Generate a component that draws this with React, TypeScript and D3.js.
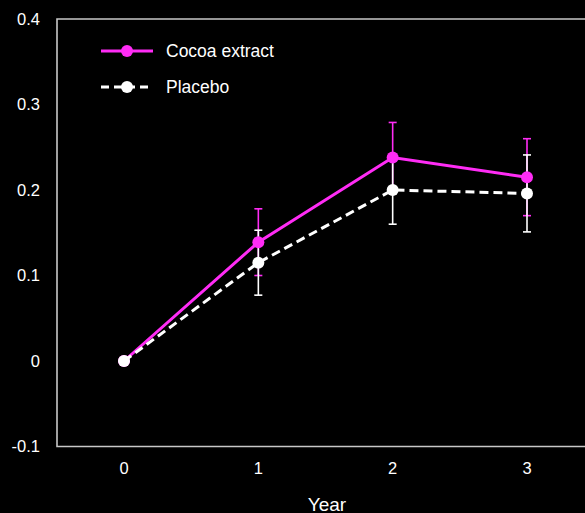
import { useEffect, useRef } from "react";
import * as d3 from "d3";

// years on the x axis
const years = [0, 1, 2, 3];
// mean change per year
const cocoaValues = [0, 0.139, 0.238, 0.215];
const cocoaErrors = [0, 0.039, 0.041, 0.045];
const placeboValues = [0, 0.115, 0.2, 0.196];
const placeboErrors = [0, 0.038, 0.04, 0.045];
const yTicks = [-0.1, 0, 0.1, 0.2, 0.3, 0.4];
const yTickLabels = ["-0.1", "0", "0.1", "0.2", "0.3", "0.4"];
const seriesNames = ["Cocoa extract", "Placebo"];

const PINK = "#ff2cf5";
const WHITE = "#ffffff";
const AXIS = "#c8c8c8";

const App: React.FC = () => {
  const svgRef = useRef<SVGSVGElement | null>(null);

  useEffect(() => {
    if (!svgRef.current) return;
    const width = 585;
    const height = 513;
    const svg = d3.select(svgRef.current);
    svg.selectAll("*").remove();

    const x = d3.scaleLinear().domain([0, 3]).range([124, 527]);
    const y = d3.scaleLinear().domain([-0.1, 0.4]).range([446.5, 19]);
    const left = 57;

    svg.append("rect").attr("width", width).attr("height", height).attr("fill", "#000");

    // frame (right edge is cut off in the picture)
    svg.append("path")
      .attr("d", `M${width + 10},${y(0.4)}H${left}V${y(-0.1)}H${width + 10}`)
      .attr("fill", "none")
      .attr("stroke", AXIS)
      .attr("stroke-width", 1.6);

    const font = "'Liberation Sans', Arial, sans-serif";

    // y tick labels
    svg.append("g").selectAll("text")
      .data(yTicks)
      .enter()
      .append("text")
      .attr("x", 40)
      .attr("y", d => y(d))
      .attr("dy", "0.35em")
      .attr("text-anchor", "end")
      .attr("fill", WHITE)
      .style("font", `16.5px ${font}`)
      .text((_, i) => yTickLabels[i]);

    // x tick labels
    svg.append("g").selectAll("text")
      .data(years)
      .enter()
      .append("text")
      .attr("x", d => x(d))
      .attr("y", 468)
      .attr("dy", "0.35em")
      .attr("text-anchor", "middle")
      .attr("fill", WHITE)
      .style("font", `16.5px ${font}`)
      .text(d => String(d));

    svg.append("text")
      .attr("x", 327)
      .attr("y", 511)
      .attr("text-anchor", "middle")
      .attr("fill", WHITE)
      .style("font", `19px ${font}`)
      .text("Year");

    const series = [
      { name: seriesNames[0], values: cocoaValues, errors: cocoaErrors, color: PINK, dash: null as string | null },
      { name: seriesNames[1], values: placeboValues, errors: placeboErrors, color: WHITE, dash: "9,5" },
    ];

    // error bars first, pink then white
    series.forEach(s => {
      const g = svg.append("g");
      years.forEach((yr, i) => {
        const e = s.errors[i];
        if (!e) return;
        const cx = x(yr);
        const top = y(s.values[i] + e);
        const bot = y(s.values[i] - e);
        g.append("line").attr("x1", cx).attr("x2", cx).attr("y1", top).attr("y2", bot)
          .attr("stroke", s.color).attr("stroke-width", 1.6);
        [top, bot].forEach(yy => {
          g.append("line").attr("x1", cx - 4).attr("x2", cx + 4).attr("y1", yy).attr("y2", yy)
            .attr("stroke", s.color).attr("stroke-width", 1.6);
        });
      });
    });

    const line = d3.line<number>()
      .x((_, i) => x(years[i]))
      .y(d => y(d));

    series.forEach(s => {
      svg.append("path")
        .datum(s.values)
        .attr("d", line)
        .attr("fill", "none")
        .attr("stroke", s.color)
        .attr("stroke-width", 3)
        .attr("stroke-dasharray", s.dash);
      svg.append("g").selectAll("circle")
        .data(s.values)
        .enter()
        .append("circle")
        .attr("cx", (_, i) => x(years[i]))
        .attr("cy", d => y(d))
        .attr("r", 6)
        .attr("fill", s.color);
    });

    // legend
    series.forEach((s, i) => {
      const ly = 51 + i * 36;
      const g = svg.append("g");
      g.append("line").attr("x1", 101).attr("x2", 153).attr("y1", ly).attr("y2", ly)
        .attr("stroke", s.color).attr("stroke-width", 3)
        .attr("stroke-dasharray", s.dash ? "8,5" : null);
      g.append("circle").attr("cx", 127).attr("cy", ly).attr("r", 6).attr("fill", s.color);
      g.append("text").attr("x", 166).attr("y", ly).attr("dy", "0.35em")
        .attr("fill", WHITE).style("font", `17.5px ${font}`).text(s.name);
    });
  }, []);

  return (
    <div style={{ position: "fixed", left: 0, top: 0, width: 585, height: 513, background: "#000" }}>
      <svg ref={svgRef} width={585} height={513} style={{ display: "block" }}></svg>
    </div>
  );
};

export default App;
